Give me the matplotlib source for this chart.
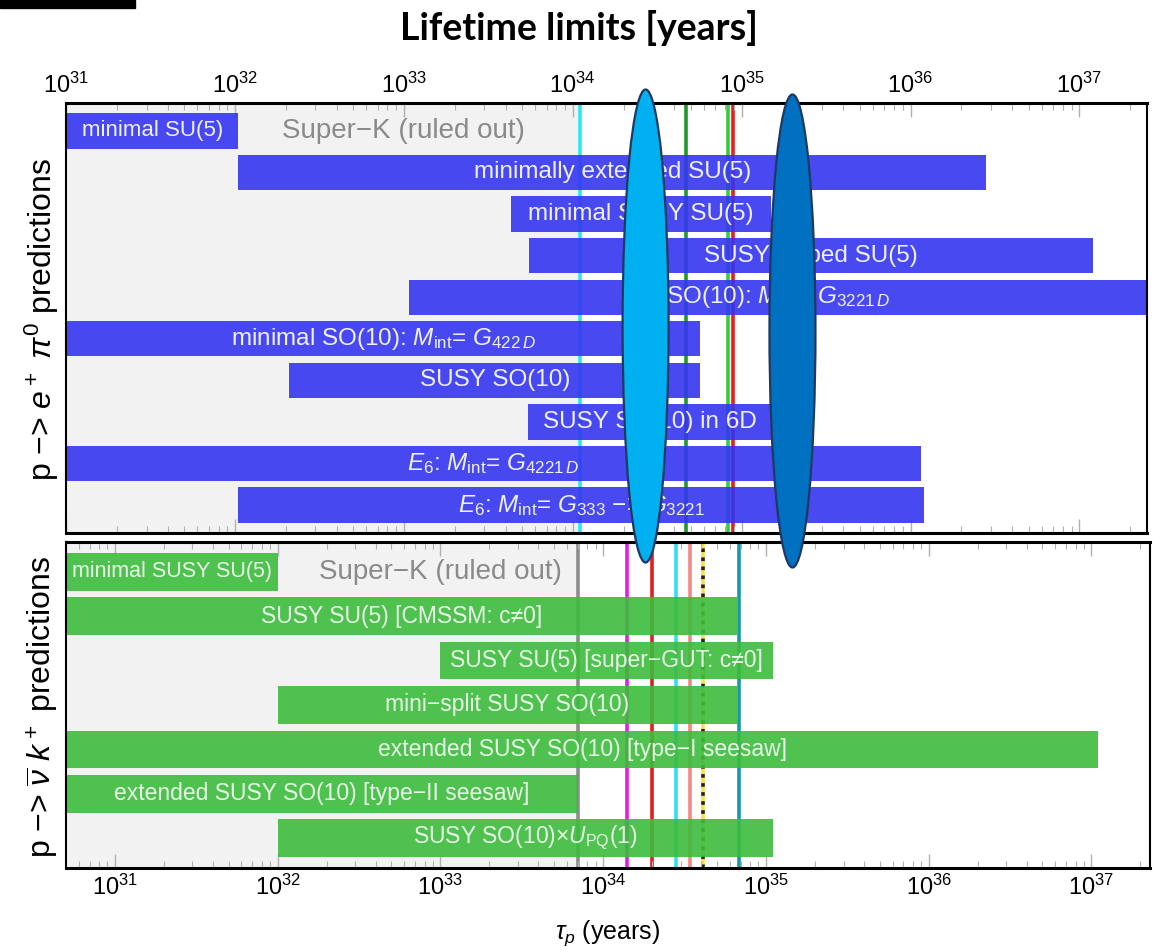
import numpy as np
import matplotlib
matplotlib.use("Agg")
import matplotlib.pyplot as plt
from matplotlib.patches import Ellipse, Rectangle
from matplotlib.ticker import FixedLocator, LogLocator, NullFormatter

plt.rcParams["font.family"] = ["Liberation Sans", "DejaVu Sans"]
plt.rcParams["mathtext.fontset"] = "custom"
plt.rcParams["mathtext.rm"] = "Liberation Sans"
plt.rcParams["mathtext.it"] = "Liberation Sans:italic"
plt.rcParams["mathtext.bf"] = "Liberation Sans:bold"

# p -> e+ pi0 predictions (top panel), lifetime ranges in years
ep_models = [
    "minimal SU(5)",
    "minimally extended SU(5)",
    "minimal SUSY SU(5)",
    "SUSY flipped SU(5)",
    r"SO(10): $M_{\rm int}$= $G_{3221\,D}$",
    r"minimal SO(10): $M_{\rm int}$= $G_{422\,D}$",
    "SUSY SO(10)",
    "SUSY SO(10) in 6D",
    r"$E_6$: $M_{\rm int}$= $G_{4221\,D}$",
    r"$E_6$: $M_{\rm int}$= $G_{333}$ −> $G_{3221}$",
]
ep_lo = [1e30, 1.05e32, 4.3e33, 5.5e33, 1.07e33, 1e30, 2.1e32, 5.4e33, 1e30, 1.05e32]
ep_hi = [1.05e32, 2.8e36, 1.5e35, 1.2e37, 1e38, 5.7e34, 5.7e34, 1.5e35, 1.15e36, 1.2e36]
ep_superk = 1.1e34
ep_lines = [1.1e34, 4.7e34, 8.3e34, 8.9e34]
ep_line_colors = ["#2ee6f2", "#1f9a2a", "#38cc38", "#e42020"]

# p -> nubar K+ predictions (bottom panel)
nk_models = [
    "minimal SUSY SU(5)",
    "SUSY SU(5) [CMSSM: c≠0]",
    "SUSY SU(5) [super−GUT: c≠0]",
    "mini−split SUSY SO(10)",
    "extended SUSY SO(10) [type−I seesaw]",
    "extended SUSY SO(10) [type−II seesaw]",
    r"SUSY SO(10)×$U_{\rm PQ}$(1)",
]
nk_lo = [1e30, 1e30, 1.0e33, 1.0e32, 1e30, 1e30, 1.0e32]
nk_hi = [1.0e32, 6.6e34, 1.1e35, 6.6e34, 1.1e37, 7.0e33, 1.1e35]
nk_superk = 7.0e33
nk_lines = [7.0e33, 1.4e34, 2.0e34, 2.8e34, 3.4e34, 4.1e34, 6.8e34]
nk_line_colors = ["#8c8c8c", "#e020e0", "#e02020", "#30e0f0", "#f08a80", "#f5e050", "#1a98a8"]
nk_dotted = 4.1e34

# highlighted lifetimes (ellipse overlays)
marks = [2.7e34, 2.0e35]
mark_colors = ["#00b0f0", "#0070c0"]

decades = 10.0 ** np.arange(31, 38)

W, H = 1161, 952
fig = plt.figure(figsize=(W / 100, H / 100), dpi=100)
ax_top = fig.add_axes([66 / W, 1 - 533 / H, 1081 / W, 430 / H])
ax_bot = fig.add_axes([66 / W, 1 - 868 / H, 1084 / W, 326 / H])

ax_top.set_xscale("log")
ax_bot.set_xscale("log")
ax_top.set_xlim(1e31, 10 ** 37.40)
ax_bot.set_xlim(10 ** 30.70, 10 ** 37.36)


def draw_panel(ax, models, lo, hi, color, txt_color, lines, line_colors, superk,
               fs, fs_first):
    n = len(models)
    y = np.arange(n)
    ax.set_ylim(n - 1 + 0.67, -0.67)
    ax.axvspan(1e29, superk, color="#f2f2f2", zorder=0, lw=0)
    for xv, c in zip(lines, line_colors):
        ax.axvline(xv, color=c, lw=2.6, zorder=1)
    lo = np.array(lo)
    hi = np.array(hi)
    ax.barh(y, hi - lo, left=lo, height=0.85, color=color, alpha=0.9, zorder=2, lw=0)
    x0, x1 = ax.get_xlim()
    for yi, name, a, b in zip(y, models, lo, hi):
        a, b = max(a, x0), min(b, x1)
        ax.text(np.sqrt(a * b), yi, name, ha="center", va="center",
                color=txt_color, fontsize=fs_first if yi == 0 else fs, zorder=3)
    ax.text(1e33, 0, "Super−K (ruled out)", ha="center", va="center",
            color="#8a8a8a", fontsize=20, zorder=3)
    ax.set_yticks([])
    ax.xaxis.set_major_locator(FixedLocator(decades))
    ax.xaxis.set_minor_locator(LogLocator(base=10, subs=np.arange(2, 10), numticks=20))
    ax.xaxis.set_minor_formatter(NullFormatter())
    ax.tick_params(axis="x", which="both", direction="in", top=True, bottom=True,
                   color="#b0b0b0", labelsize=17)
    ax.tick_params(axis="x", which="major", length=10, width=1)
    ax.tick_params(axis="x", which="minor", length=5, width=0.8)
    for side in ["top", "bottom"]:
        ax.spines[side].set_linewidth(2.2)
    for side in ["left", "right"]:
        ax.spines[side].set_linewidth(1.5)


draw_panel(ax_top, ep_models, ep_lo, ep_hi, "#3535f0", "#eef0ff",
           ep_lines, ep_line_colors, ep_superk, 17.5, 16)
draw_panel(ax_bot, nk_models, nk_lo, nk_hi, "#3cbc3c", "#e8f8e8",
           nk_lines, nk_line_colors, nk_superk, 16.5, 15.5)
ax_bot.axvline(nk_dotted, color="#222222", lw=2.6, ls=(0, (1, 1.5)), zorder=1.5)

ax_top.tick_params(axis="x", labeltop=True, labelbottom=False, pad=4)
ax_bot.tick_params(axis="x", pad=5)
ax_bot.set_xlabel(r"$\tau_p$ (years)", fontsize=18, labelpad=13)

fig.text(42 / W, 1 - 320 / H, r"p −> $e^+\ \pi^0$ predictions", rotation=90,
         ha="center", va="center", fontsize=23)
fig.text(42 / W, 1 - 707 / H, r"p −> $\overline{\nu}\ k^+$ predictions", rotation=90,
         ha="center", va="center", fontsize=23)

fig.text(579 / W, 1 - 28 / H, "Lifetime limits [years]", ha="center", va="center",
         fontsize=27, fontweight="bold", family=["Lato", "DejaVu Sans"])
fig.patches.append(Rectangle((0, 1 - 8 / H), 135 / W, 8 / H, color="black",
                             transform=fig.transFigure, figure=fig))

# ellipse overlays, x from the top axis scale
for xv, c, yc in zip(marks, mark_colors, [326, 331]):
    px = ax_top.transData.transform((xv, 0))[0] / fig.bbox.width
    fig.patches.append(Ellipse((px, 1 - yc / H), 46 / W, 473 / H, facecolor=c,
                               edgecolor="#1f3864", lw=1.6, zorder=5,
                               transform=fig.transFigure, figure=fig))

fig.savefig("out.png", dpi=100)
